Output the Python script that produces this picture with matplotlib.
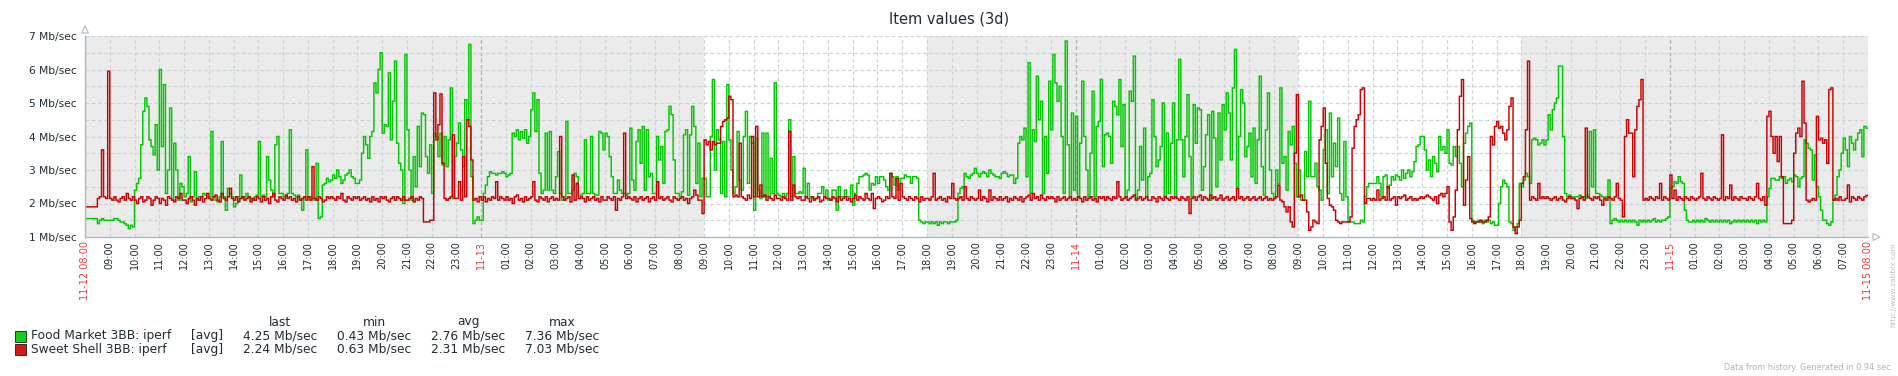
import numpy as np
import matplotlib
matplotlib.use('Agg')
import matplotlib.pyplot as plt
from matplotlib.patches import Rectangle, Polygon

# ---------------- data (Mb/sec, one value per 5 minutes, from 11-12 08:00; one row = one hour) ----------------
food_market = [
    1.55, 1.55, 1.55, 1.55, 1.55, 1.55, 1.4, 1.5, 1.55, 1.5, 1.5, 1.5,
    1.5, 1.5, 1.55, 1.55, 1.5, 1.45, 1.45, 1.4, 1.35, 1.25, 1.35, 1.3,
    2.4, 2.6, 2.75, 3.75, 4.75, 5.15, 4.9, 3.9, 3.7, 3.45, 4.35, 3.0,
    6.0, 3.7, 5.55, 2.3, 3.0, 4.85, 2.1, 3.8, 3.0, 2.1, 2.6, 2.5,
    2.2, 2.3, 3.4, 2.05, 2.2, 2.95, 2.1, 2.2, 2.2, 2.3, 2.25, 2.2,
    2.2, 4.15, 2.2, 2.1, 2.05, 2.2, 3.85, 2.2, 1.8, 2.45, 2.3, 2.2,
    1.9, 2.0, 2.2, 2.85, 2.15, 2.2, 2.3, 2.2, 2.15, 2.1, 2.2, 2.25,
    3.85, 2.2, 2.25, 2.2, 3.4, 2.7, 2.4, 2.2, 3.75, 4.0, 2.3, 2.3,
    2.2, 2.2, 2.3, 4.2, 2.3, 2.25, 2.2, 2.25, 2.1, 1.8, 2.2, 3.6,
    2.2, 2.2, 2.15, 2.1, 3.2, 1.55, 1.6, 2.55, 2.6, 2.75, 2.65, 2.7,
    2.85, 2.75, 3.0, 2.8, 2.6, 2.7, 2.85, 2.9, 3.0, 2.8, 2.75, 2.6,
    2.6, 2.7, 3.5, 4.0, 3.75, 3.35, 4.0, 4.15, 5.6, 5.3, 6.0, 6.5,
    4.1, 4.35, 4.3, 5.9, 3.9, 5.05, 6.25, 3.8, 3.2, 3.0, 2.0, 6.45,
    4.2, 3.0, 2.1, 3.4, 2.5, 4.3, 3.1, 4.7, 4.65, 3.4, 2.9, 3.75,
    2.3, 4.1, 4.0, 3.4, 4.1, 3.15, 4.0, 3.1, 3.9, 5.45, 2.15, 3.4,
    3.8, 4.4, 3.6, 3.1, 5.1, 4.5, 6.75, 2.8, 1.4, 1.5, 1.6, 1.5,
    1.5, 2.3, 2.55, 2.8, 2.95, 2.9, 2.9, 2.85, 2.9, 2.9, 2.95, 2.9,
    2.8, 2.85, 2.9, 4.1, 4.0, 4.2, 3.9, 4.15, 3.95, 4.2, 3.8, 4.0,
    4.8, 5.3, 4.15, 5.1, 2.9, 2.3, 2.4, 4.1, 2.4, 4.15, 2.4, 2.3,
    2.8, 3.55, 2.3, 2.1, 2.2, 4.45, 2.3, 2.3, 2.4, 2.9, 2.8, 2.25,
    2.25, 2.3, 3.9, 2.3, 2.3, 4.0, 2.3, 2.25, 2.25, 4.15, 4.1, 3.6,
    4.1, 4.0, 3.4, 2.8, 2.3, 2.3, 2.7, 2.4, 2.3, 2.3, 2.25, 2.3,
    4.25, 2.7, 2.4, 3.85, 4.2, 3.2, 4.3, 2.4, 4.2, 2.8, 2.9, 2.3,
    2.3, 4.0, 3.3, 3.7, 2.6, 4.15, 4.2, 4.9, 4.65, 3.3, 2.3, 2.3,
    2.2, 2.35, 4.05, 4.2, 2.25, 4.05, 4.9, 4.3, 2.6, 3.8, 2.2, 2.75,
    2.75, 2.2, 2.2, 4.0, 5.7, 3.0, 4.2, 3.9, 2.3, 3.85, 2.2, 5.55,
    3.9, 3.0, 2.3, 2.5, 4.15, 2.7, 2.4, 4.0, 4.75, 2.6, 4.0, 3.8,
    1.8, 3.95, 2.4, 2.15, 4.1, 2.2, 4.1, 2.2, 3.35, 2.3, 5.6, 2.3,
    2.25, 2.2, 2.3, 2.2, 2.3, 4.5, 2.2, 3.4, 2.3, 2.3, 2.35, 2.3,
    3.05, 2.2, 2.6, 2.2, 2.2, 2.15, 2.15, 2.3, 2.3, 2.5, 2.2, 2.4,
    2.1, 2.1, 2.4, 2.4, 1.8, 2.5, 2.2, 2.2, 2.4, 2.2, 2.2, 2.55,
    1.95, 2.3, 2.6, 2.8, 2.8, 2.85, 2.9, 2.85, 2.4, 2.6, 2.55, 2.8,
    2.6, 2.8, 2.8, 2.7, 2.5, 2.4, 2.9, 2.8, 2.55, 2.8, 2.4, 2.75,
    2.75, 2.85, 2.8, 2.8, 2.6, 2.8, 2.8, 2.75, 1.5, 1.45, 1.4, 1.45,
    1.45, 1.4, 1.45, 1.4, 1.45, 1.35, 1.45, 1.4, 1.45, 1.45, 1.4, 1.45,
    1.45, 1.45, 1.5, 2.3, 2.45, 2.5, 2.9, 2.8, 2.75, 2.85, 2.9, 3.05,
    2.9, 2.8, 2.9, 2.95, 2.9, 2.8, 3.0, 2.9, 2.85, 2.8, 2.8, 2.75,
    2.9, 2.95, 2.9, 2.8, 2.85, 2.85, 2.6, 2.75, 3.8, 4.0, 3.9, 4.25,
    2.8, 6.2, 2.3, 4.2, 3.85, 5.8, 4.5, 5.05, 2.3, 4.0, 2.9, 5.65,
    4.2, 6.45, 5.6, 5.05, 5.5, 4.0, 2.3, 6.85, 3.75, 2.2, 4.7, 2.4,
    4.6, 2.2, 3.8, 5.65, 4.0, 3.0, 2.2, 3.5, 5.35, 2.2, 4.3, 4.45,
    5.7, 3.1, 4.05, 4.1, 4.0, 3.2, 5.05, 4.9, 4.65, 5.7, 3.7, 4.95,
    2.2, 2.4, 5.35, 5.05, 6.4, 2.15, 2.4, 3.7, 2.7, 4.25, 2.2, 2.8,
    2.9, 5.1, 4.0, 3.1, 3.3, 3.7, 5.0, 2.2, 4.1, 2.3, 3.8, 5.0,
    2.2, 3.9, 6.3, 3.9, 2.8, 4.0, 5.25, 3.4, 2.2, 4.95, 3.8, 4.85,
    4.8, 2.4, 3.1, 4.05, 4.65, 2.1, 4.75, 3.95, 2.5, 4.7, 3.3, 4.95,
    4.2, 5.3, 4.7, 3.3, 5.45, 6.6, 2.5, 4.0, 5.4, 5.0, 3.4, 3.7,
    4.1, 2.8, 4.25, 2.6, 3.9, 5.8, 3.1, 2.25, 4.2, 5.3, 3.0, 2.3,
    2.2, 3.0, 2.6, 5.45, 3.2, 3.4, 2.4, 4.15, 3.75, 4.3, 3.2, 2.2,
    3.0, 2.1, 2.1, 3.55, 2.8, 5.05, 2.8, 2.8, 3.2, 2.5, 2.4, 2.1,
    3.6, 4.2, 2.3, 4.7, 2.8, 3.8, 3.1, 4.55, 2.3, 2.1, 3.85, 2.2,
    1.45, 1.45, 1.45, 1.4, 1.4, 1.4, 1.5, 1.45, 2.2, 2.5, 2.6, 2.6,
    2.6, 2.6, 2.8, 2.6, 2.2, 2.8, 2.85, 2.45, 2.55, 2.8, 2.7, 2.85,
    2.8, 2.7, 3.0, 2.75, 2.9, 3.0, 2.8, 2.95, 3.25, 3.7, 3.75, 4.0,
    4.0, 3.6, 3.0, 3.3, 2.8, 3.4, 3.2, 2.95, 4.0, 3.6, 3.7, 3.5,
    4.2, 3.2, 3.15, 3.7, 3.4, 3.7, 3.2, 2.5, 3.8, 4.1, 4.3, 4.4,
    1.5, 1.45, 1.45, 1.5, 1.45, 1.4, 1.5, 1.45, 1.5, 1.4, 1.45, 1.35,
    1.35, 2.0, 2.5, 2.7, 2.6, 2.5, 1.45, 1.4, 1.2, 1.3, 1.4, 2.6,
    2.5, 2.7, 2.9, 2.8, 2.6, 3.9, 3.95, 3.9, 3.75, 3.8, 3.9, 3.75,
    3.9, 4.65, 4.2, 4.8, 5.0, 5.15, 6.1, 6.1, 4.0, 2.3, 2.2, 2.25,
    2.2, 2.15, 2.2, 2.2, 2.25, 2.2, 2.2, 2.15, 2.25, 4.15, 2.5, 4.2,
    2.3, 2.3, 2.25, 2.2, 2.15, 2.2, 2.7, 1.4, 1.5, 1.55, 1.5, 1.45,
    1.5, 1.45, 1.5, 1.45, 1.5, 1.45, 1.5, 1.45, 1.35, 1.5, 1.45, 1.5,
    1.45, 1.5, 1.45, 1.5, 1.55, 1.45, 1.5, 1.45, 1.5, 1.5, 1.55, 1.6,
    2.45, 2.5, 2.65, 2.6, 2.8, 2.65, 2.6, 1.8, 1.5, 1.45, 1.45, 1.5,
    1.45, 1.5, 1.45, 1.5, 1.45, 1.55, 1.5, 1.45, 1.5, 1.45, 1.5, 1.45,
    1.5, 1.45, 1.5, 1.45, 1.5, 1.4, 1.45, 1.5, 1.45, 1.5, 1.45, 1.5,
    1.45, 1.5, 1.45, 1.5, 1.45, 1.5, 1.4, 1.5, 1.45, 1.5, 1.45, 2.2,
    2.45, 2.75, 2.75, 2.7, 2.7, 2.8, 2.75, 2.8, 2.6, 2.7, 2.75, 2.65,
    2.85, 2.8, 2.5, 2.75, 2.8, 3.9, 3.8, 3.65, 3.6, 2.7, 3.45, 2.5,
    2.2, 1.8, 1.5, 1.5, 1.4, 1.35, 1.45, 2.1, 2.25, 2.8, 3.0, 3.5,
    3.95, 3.6, 3.1, 4.0, 3.8, 3.6, 3.9, 4.1, 4.2, 3.4, 4.3, 4.25,
]

sweet_shell = [
    1.9, 1.9, 1.9, 1.9, 1.9, 1.9, 2.15, 2.2, 3.6, 2.2, 2.15, 5.95,
    2.15, 2.1, 2.2, 2.1, 2.05, 2.15, 2.2, 2.1, 2.3, 2.15, 2.1, 2.2,
    2.1, 2.0, 2.15, 2.2, 2.05, 2.1, 2.2, 2.15, 1.95, 2.1, 2.2, 2.15,
    2.0, 2.15, 2.1, 1.95, 2.2, 2.15, 2.1, 2.05, 2.2, 2.15, 2.3, 2.1,
    2.1, 2.0, 2.15, 2.2, 2.1, 1.95, 2.15, 2.1, 2.2, 2.05, 2.15, 2.3,
    2.15, 2.1, 2.2, 2.25, 2.1, 2.05, 2.3, 2.15, 2.1, 2.2, 2.45, 2.15,
    2.1, 2.2, 2.05, 2.15, 2.2, 2.1, 2.15, 2.2, 2.05, 2.15, 2.1, 2.2,
    2.15, 2.05, 2.2, 2.1, 2.15, 2.0, 2.2, 2.3, 2.1, 2.05, 2.2, 2.15,
    2.1, 2.25, 2.15, 2.2, 2.1, 2.15, 2.05, 2.2, 2.1, 2.15, 2.2, 2.1,
    2.2, 2.1, 3.1, 2.15, 2.1, 2.2, 2.15, 2.05, 2.1, 2.2, 2.15, 2.2,
    2.15, 2.1, 2.2, 2.15, 2.3, 2.1, 2.05, 2.2, 2.15, 2.1, 2.2, 2.15,
    2.2, 2.1, 2.15, 2.2, 2.1, 2.15, 2.05, 2.2, 2.1, 2.15, 2.05, 2.2,
    2.15, 2.2, 2.1, 2.05, 2.15, 2.2, 2.1, 2.2, 2.15, 2.1, 2.2, 2.1,
    2.1, 2.15, 2.2, 2.05, 2.15, 2.1, 2.2, 2.15, 1.45, 1.45, 1.45, 1.5,
    1.5, 5.3, 3.9, 4.35, 5.27, 3.2, 2.15, 2.1, 2.15, 2.2, 4.05, 2.15,
    2.15, 2.65, 2.1, 3.4, 2.2, 4.5, 4.3, 3.3, 2.1, 2.15, 2.05, 2.2,
    2.1, 2.2, 2.05, 2.15, 2.1, 2.2, 2.15, 2.65, 2.1, 2.2, 2.15, 2.1,
    2.2, 2.1, 2.15, 2.0, 2.2, 2.25, 2.1, 2.15, 2.05, 2.2, 2.1, 2.15,
    2.2, 2.65, 2.1, 2.05, 2.2, 2.15, 2.1, 2.2, 2.05, 2.15, 2.2, 2.1,
    2.15, 2.1, 4.0, 2.2, 2.1, 2.15, 2.2, 2.05, 2.85, 2.1, 2.6, 2.15,
    2.2, 2.15, 2.05, 2.2, 2.1, 2.15, 2.2, 2.1, 2.15, 2.05, 2.2, 2.1,
    2.1, 2.2, 2.15, 2.1, 2.2, 1.8, 2.15, 2.1, 2.2, 4.1, 2.15, 2.2,
    2.15, 2.1, 2.2, 2.05, 2.15, 2.2, 2.1, 2.15, 2.2, 2.05, 2.15, 2.2,
    2.1, 2.65, 2.15, 2.2, 2.1, 2.15, 2.2, 2.1, 2.05, 2.2, 2.15, 2.1,
    2.15, 2.2, 2.1, 2.15, 2.0, 2.15, 2.2, 2.4, 2.25, 2.1, 2.1, 1.7,
    3.9, 3.75, 3.85, 3.6, 3.85, 3.75, 3.8, 3.8, 4.3, 4.45, 4.5, 4.55,
    5.2, 5.1, 2.2, 2.25, 2.2, 3.8, 2.2, 2.15, 2.1, 2.25, 2.15, 4.0,
    2.2, 4.3, 2.2, 2.55, 2.2, 2.25, 2.1, 2.2, 2.15, 2.1, 2.25, 2.15,
    2.15, 2.1, 2.2, 2.15, 2.1, 4.15, 2.1, 2.55, 2.2, 2.15, 2.2, 2.1,
    2.1, 2.2, 2.15, 2.05, 2.2, 2.1, 2.15, 2.2, 2.05, 2.1, 2.2, 2.15,
    2.15, 2.1, 2.2, 2.15, 2.05, 2.2, 2.1, 2.15, 2.2, 2.1, 2.15, 2.05,
    2.15, 2.25, 2.1, 2.2, 2.15, 2.1, 2.3, 2.15, 2.1, 2.3, 1.85, 2.15,
    2.2, 2.15, 2.05, 2.1, 2.2, 2.15, 2.9, 2.2, 2.15, 2.75, 2.1, 2.6,
    2.2, 2.15, 2.1, 2.2, 2.15, 2.1, 2.2, 2.15, 2.05, 2.2, 2.1, 2.15,
    2.15, 2.1, 2.2, 2.9, 2.1, 2.15, 2.2, 2.1, 2.15, 2.05, 2.2, 2.15,
    2.6, 2.15, 2.1, 2.15, 2.2, 2.1, 2.5, 2.15, 2.1, 2.2, 2.15, 2.1,
    2.15, 2.4, 2.1, 2.2, 2.15, 2.05, 2.4, 2.1, 2.2, 2.15, 2.1, 2.2,
    2.1, 2.15, 2.2, 2.05, 2.15, 2.1, 2.2, 2.15, 2.1, 2.2, 2.05, 2.15,
    2.2, 2.25, 2.1, 2.3, 2.15, 2.2, 2.1, 2.25, 2.15, 2.1, 2.2, 2.15,
    2.2, 2.15, 2.05, 2.2, 2.1, 2.15, 2.2, 2.1, 2.15, 2.2, 2.1, 2.15,
    2.1, 2.2, 2.15, 2.05, 2.2, 2.1, 2.15, 2.2, 2.1, 2.15, 2.05, 2.2,
    2.15, 2.2, 2.1, 2.2, 2.15, 2.1, 2.2, 2.15, 2.65, 2.2, 2.1, 2.15,
    2.2, 2.1, 2.15, 2.2, 2.25, 2.1, 2.15, 2.2, 2.1, 2.15, 2.2, 2.1,
    2.1, 2.2, 2.15, 2.05, 2.2, 2.15, 2.1, 2.2, 2.15, 2.1, 2.2, 2.15,
    2.2, 2.15, 2.1, 2.2, 2.15, 2.1, 2.2, 1.7, 2.15, 2.2, 2.1, 2.2,
    2.25, 2.1, 2.2, 2.15, 2.1, 2.25, 2.15, 2.2, 2.1, 2.15, 2.25, 2.1,
    2.15, 2.2, 2.1, 2.15, 2.2, 2.1, 2.45, 2.15, 2.2, 2.1, 2.15, 2.2,
    2.1, 2.15, 2.2, 2.1, 2.15, 2.2, 2.1, 2.15, 2.2, 2.1, 2.15, 2.1,
    2.15, 2.2, 2.55, 2.1, 2.05, 1.9, 1.75, 1.9, 1.45, 1.3, 3.5, 5.25,
    2.2, 2.25, 2.1, 2.1, 1.75, 1.2, 1.3, 1.5, 1.45, 1.4, 3.9, 4.3,
    4.85, 3.2, 2.15, 1.95, 1.9, 1.8, 1.5, 1.45, 1.4, 1.45, 1.45, 1.45,
    1.45, 1.6, 3.65, 4.3, 4.5, 4.65, 5.4, 5.45, 2.0, 2.15, 2.15, 2.1,
    2.15, 2.1, 2.4, 2.1, 2.15, 2.2, 2.1, 2.5, 2.1, 2.15, 2.2, 1.95,
    2.2, 2.15, 2.2, 2.25, 2.1, 2.15, 2.2, 2.1, 2.15, 2.1, 2.15, 2.2,
    2.15, 2.2, 2.25, 2.2, 2.15, 2.1, 2.2, 2.0, 2.25, 2.3, 2.2, 2.3,
    2.5, 1.45, 1.2, 1.6, 2.4, 4.2, 5.2, 5.7, 1.95, 2.7, 3.4, 1.55,
    1.45, 1.4, 1.45, 1.45, 1.5, 1.45, 1.45, 1.5, 1.6, 4.0, 3.75, 4.3,
    4.45, 4.25, 4.3, 4.1, 3.9, 4.2, 4.9, 5.15, 1.3, 1.1, 1.3, 1.5,
    2.6, 2.8, 4.2, 6.25, 2.1, 2.2, 2.15, 2.1, 2.6, 2.15, 2.2, 2.15,
    2.2, 2.15, 2.1, 2.15, 2.2, 2.1, 2.15, 2.2, 2.1, 2.05, 2.15, 2.2,
    2.15, 2.15, 2.1, 1.85, 2.15, 2.2, 2.1, 4.25, 2.2, 2.15, 2.1, 2.2,
    2.15, 2.2, 2.1, 1.95, 2.15, 2.1, 2.2, 2.15, 2.1, 2.2, 2.6, 2.15,
    2.1, 1.6, 4.0, 4.5, 4.1, 4.1, 2.8, 4.2, 4.9, 5.1, 5.7, 2.1,
    2.15, 2.1, 2.2, 2.15, 2.1, 2.2, 2.15, 2.6, 2.1, 2.2, 2.15, 2.1,
    2.85, 2.15, 2.4, 2.1, 2.2, 2.15, 2.1, 2.2, 2.15, 2.1, 2.2, 2.15,
    2.1, 2.15, 2.2, 2.9, 2.15, 2.1, 2.2, 2.15, 2.1, 2.2, 2.15, 2.1,
    2.15, 4.05, 2.1, 2.2, 2.15, 2.55, 2.1, 2.2, 2.15, 2.1, 2.2, 2.15,
    2.15, 2.1, 2.2, 2.15, 2.1, 2.2, 2.6, 2.15, 2.1, 2.2, 1.95, 4.6,
    4.75, 4.0, 3.5, 4.0, 3.25, 4.0, 2.8, 1.4, 1.4, 1.4, 1.4, 1.5,
    3.5, 4.1, 4.25, 4.0, 5.65, 4.4, 2.1, 2.05, 2.1, 2.15, 2.1, 4.6,
    3.9, 3.95, 3.8, 3.9, 3.2, 5.4, 5.45, 2.1, 2.15, 2.1, 2.2, 2.1,
    2.1, 2.15, 2.55, 2.05, 2.2, 2.15, 2.1, 2.2, 2.15, 2.1, 2.2, 2.24,
]

series_names = ["Food Market 3BB: iperf", "Sweet Shell 3BB: iperf"]
series_func = ["[avg]", "[avg]"]
stat_headers = ["last", "min", "avg", "max"]
stat_last = ["4.25 Mb/sec", "2.24 Mb/sec"]
stat_min = ["0.43 Mb/sec", "0.63 Mb/sec"]
stat_avg = ["2.76 Mb/sec", "2.31 Mb/sec"]
stat_max = ["7.36 Mb/sec", "7.03 Mb/sec"]
y_ticks = [1, 2, 3, 4, 5, 6, 7]
start_hour = 8
total_hours = 72
day_labels = {0: "11-12 08:00", 16: "11-13", 40: "11-14", 64: "11-15", 72: "11-15 08:00"}
work_periods = [(25, 34), (49, 58)]
title = "Item values (3d)"

# ---------------- style ----------------
W, H = 1898, 376
GREEN = '#00C800'
RED = '#C80000'
TXT = '#1F2C33'
DAYRED = '#EE3B3B'
GRID = '#CCD5D9'
AXC = '#ACBBC2'

def fx(x):
    return x / W

def fy(y):
    return 1 - y / H

fig = plt.figure(figsize=(W / 100, H / 100), dpi=100)
fig.patch.set_facecolor('white')
L, R, T, B = 85, 1868, 36, 237
ax = fig.add_axes([fx(L), fy(B), (R - L) / W, (B - T) / H])
ax.set_facecolor('#EBEBEB')
ax.set_xlim(0, total_hours)
ax.set_ylim(1, 7)

for a, b in work_periods:
    ax.axvspan(a, b, color='white', zorder=0, lw=0)

for h in range(total_hours + 1):
    is_day = (start_hour + h) % 24 == 0
    ax.axvline(h, color='#A9B1B5' if is_day else GRID, ls=(0, (3, 2)), lw=0.9, zorder=1)
for v in np.arange(1.5, 7.01, 0.5):
    ax.axhline(v, color=GRID, ls=(0, (3, 2)), lw=0.9, zorder=1)

for series, col, z in [(food_market, GREEN, 3), (sweet_shell, RED, 4)]:
    n = len(series)
    t = np.arange(n + 1) * total_hours / n
    ax.step(t, list(series) + [series[-1]], where='post', color=col, lw=1.05, zorder=z,
            solid_joinstyle='miter')

for s in ['top', 'right']:
    ax.spines[s].set_visible(False)
for s in ['left', 'bottom']:
    ax.spines[s].set_color(AXC)
    ax.spines[s].set_linewidth(1.0)
    ax.spines[s].set_zorder(5)

ax.set_yticks(y_ticks)
ax.set_yticklabels([f"{v} Mb/sec" for v in y_ticks], fontsize=7.7, color=TXT)
ax.tick_params(axis='y', length=0, pad=6)

xt = list(range(total_hours + 1))
labels = []
for h in xt:
    if h in day_labels:
        labels.append(day_labels[h])
    else:
        labels.append(f"{(start_hour + h) % 24:02d}:00")
ax.set_xticks(xt)
ax.set_xticklabels(labels, rotation=90, fontsize=7, va='top', ha='center')
for h, lab in zip(xt, ax.get_xticklabels()):
    lab.set_color(DAYRED if h in day_labels else TXT)
ax.tick_params(axis='x', length=0, pad=3)

# arrows
fig.patches.append(Polygon([(fx(85), fy(26)), (fx(81.5), fy(33)), (fx(88.5), fy(33))],
                           closed=True, fc='white', ec=AXC, lw=0.8, transform=fig.transFigure))
fig.patches.append(Polygon([(fx(1880), fy(237)), (fx(1873), fy(233.5)), (fx(1873), fy(240.5))],
                           closed=True, fc='white', ec=AXC, lw=0.8, transform=fig.transFigure))

fig.text(0.5, fy(19), title, ha='center', va='center', fontsize=10.5, color=TXT)

# legend
LFS = 8.8
col_x = [280, 374, 468.5, 562]
for cx, hd in zip(col_x, stat_headers):
    fig.text(fx(cx), fy(322), hd, ha='center', va='center', fontsize=LFS, color=TXT)
rows_y = [336, 349.5]
colors = ['#1ACD1A', '#D21A1A']
for i in range(2):
    y = rows_y[i]
    fig.patches.append(Rectangle((fx(15), fy(y + 5.5)), 11 / W, 11 / H, fc=colors[i], ec='#1a1a1a',
                                 lw=0.6, transform=fig.transFigure))
    fig.text(fx(31), fy(y), series_names[i], ha='left', va='center', fontsize=LFS, color=TXT)
    fig.text(fx(207.5), fy(y), series_func[i], ha='center', va='center', fontsize=LFS, color=TXT)
    for cx, val in zip(col_x, [stat_last[i], stat_min[i], stat_avg[i], stat_max[i]]):
        fig.text(fx(cx), fy(y), val, ha='center', va='center', fontsize=LFS, color=TXT)

fig.text(fx(1893), fy(368), "Data from history. Generated in 0.94 sec.", ha='right', va='center',
         fontsize=5.9, color='#B4B4B4')
fig.text(fx(1893), fy(242), "http://www.zabbix.com", rotation=90, ha='center', va='top',
         fontsize=5.3, color='#C0C0C0')

fig.savefig('out.png', dpi=100)
